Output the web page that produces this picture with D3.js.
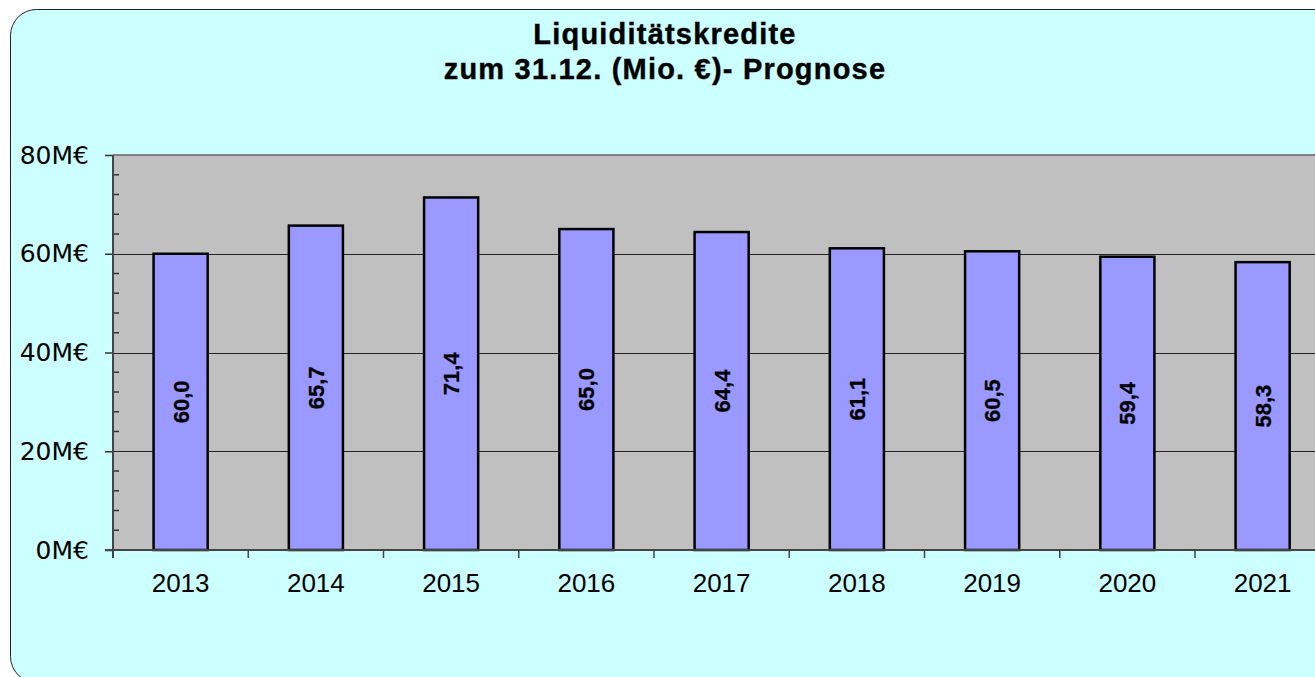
<!DOCTYPE html>
<html>
<head>
<meta charset="utf-8">
<script src="https://cdn.jsdelivr.net/npm/d3@7"></script>
<style>
  html, body { margin: 0; padding: 0; background: #fff; overflow: hidden; }
</style>
</head>
<body>
<div class="chart"></div>
<script>
const years = ["2013", "2014", "2015", "2016", "2017", "2018", "2019", "2020", "2021"]
const values = [60.0, 65.7, 71.4, 65.0, 64.4, 61.1, 60.5, 59.4, 58.3]
const yTicks = [0, 20, 40, 60, 80]
const titleLines = ["Liquiditätskredite", "zum 31.12. (Mio. €)- Prognose"]

const W = 1315, H = 677
const plot = {left: 113, top: 155, bottom: 550, step: 135.25}

const svg = d3.select(".chart").append("svg")
    .attr("width", W)
    .attr("height", H)

// outer rounded frame
svg.append("rect")
    .attr("x", 10.5).attr("y", 9.5)
    .attr("width", 1340).attr("height", 673)
    .attr("rx", 26).attr("ry", 26)
    .attr("fill", "#ccffff")
    .attr("stroke", "#222")
    .attr("stroke-width", 1)

const title = svg.append("text")
    .attr("text-anchor", "middle")
    .attr("font-family", "Liberation Sans, Arial, sans-serif")
    .attr("font-weight", "bold")
    .attr("font-size", 29)
    .attr("letter-spacing", 1.2)
    .attr("stroke", "#000")
    .attr("stroke-width", 0.4)
title.selectAll("tspan")
    .data(titleLines)
    .enter()
    .append("tspan")
        .attr("x", 665)
        .attr("y", (_, i) => 44 + i * 35)
        .text(d => d)

const right = plot.left + plot.step * years.length

const xScale = d3.scaleBand()
    .domain(years)
    .range([plot.left, right])
    .paddingInner(0.6)
    .paddingOuter(0.3)

const yScale = d3.scaleLinear()
    .domain([0, 80])
    .range([plot.bottom, plot.top])

// plot area
svg.append("rect")
    .attr("x", plot.left).attr("y", plot.top)
    .attr("width", right - plot.left).attr("height", plot.bottom - plot.top)
    .attr("fill", "#c0c0c0")
svg.append("line")
    .attr("x1", plot.left).attr("x2", right)
    .attr("y1", plot.top).attr("y2", plot.top)
    .attr("stroke", "#808080").attr("stroke-width", 2)

// gridlines
svg.append("g")
    .selectAll("line")
    .data(yTicks.filter(d => d > 0 && d < 80))
    .enter()
    .append("line")
        .attr("x1", plot.left).attr("x2", right)
        .attr("y1", d => Math.round(yScale(d)) + 0.5)
        .attr("y2", d => Math.round(yScale(d)) + 0.5)
        .attr("stroke", "#222").attr("stroke-width", 1)

// bars
svg.append("g")
    .selectAll("rect")
    .data(values)
    .enter()
    .append("rect")
        .attr("x", (d, i) => xScale(years[i]))
        .attr("y", d => yScale(d))
        .attr("width", xScale.bandwidth())
        .attr("height", d => plot.bottom - yScale(d))
        .attr("fill", "#9999ff")
        .attr("stroke", "#000")
        .attr("stroke-width", 2.5)

// value labels
svg.append("g")
    .selectAll("text")
    .data(values)
    .enter()
    .append("text")
        .attr("transform", (d, i) => {
            const cx = xScale(years[i]) + xScale.bandwidth() / 2
            const cy = (yScale(d) + plot.bottom) / 2
            return `translate(${cx},${cy}) rotate(-90)`
        })
        .attr("text-anchor", "middle")
        .attr("dy", "0.36em")
        .attr("font-family", "Liberation Sans, Arial, sans-serif")
        .attr("font-weight", "bold")
        .attr("font-size", 22)
        .attr("stroke", "#000")
        .attr("stroke-width", 0.3)
        .text(d => d3.format(".1f")(d).replace(".", ","))

// y axis
const yAxis = d3.axisLeft(yScale)
    .tickValues(yTicks)
    .tickSize(8)
    .tickPadding(16)
    .tickFormat(d => d + "M€")

const yg = svg.append("g")
    .attr("transform", `translate(${plot.left},0)`)
    .call(yAxis)
yg.select(".domain").remove()
yg.selectAll("line").attr("stroke", "#333").attr("stroke-width", 1.5)
yg.selectAll("text")
    .attr("font-family", "DejaVu Sans, Verdana, sans-serif")
    .attr("font-size", 25)
    .attr("fill", "#000")

// minor ticks
svg.append("g")
    .selectAll("line")
    .data(d3.range(0, 81, 4).filter(d => d % 20 !== 0))
    .enter()
    .append("line")
        .attr("x1", plot.left).attr("x2", plot.left + 6)
        .attr("y1", d => yScale(d)).attr("y2", d => yScale(d))
        .attr("stroke", "#333").attr("stroke-width", 1.5)

svg.append("line")
    .attr("x1", plot.left).attr("x2", plot.left)
    .attr("y1", plot.top).attr("y2", plot.bottom + 8)
    .attr("stroke", "#444").attr("stroke-width", 2)

// x axis
svg.append("line")
    .attr("x1", plot.left - 8).attr("x2", right)
    .attr("y1", plot.bottom).attr("y2", plot.bottom)
    .attr("stroke", "#444").attr("stroke-width", 2)

svg.append("g")
    .selectAll("line")
    .data(years.slice(1))
    .enter()
    .append("line")
        .attr("x1", d => xScale(d) - xScale.step() * xScale.paddingInner() / 2)
        .attr("x2", d => xScale(d) - xScale.step() * xScale.paddingInner() / 2)
        .attr("y1", plot.bottom).attr("y2", plot.bottom + 8)
        .attr("stroke", "#444").attr("stroke-width", 1.5)

svg.append("g")
    .selectAll("text")
    .data(years)
    .enter()
    .append("text")
        .attr("x", d => xScale(d) + xScale.bandwidth() / 2)
        .attr("y", 592)
        .attr("text-anchor", "middle")
        .attr("font-family", "Liberation Sans, Arial, sans-serif")
        .attr("font-size", 26)
        .text(d => d)
</script>
</body>
</html>
